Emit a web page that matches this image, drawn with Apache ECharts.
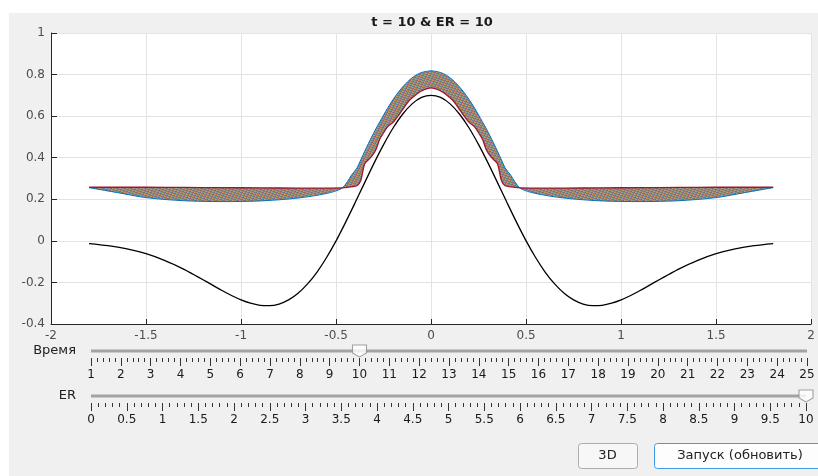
<!DOCTYPE html>
<html>
<head>
<meta charset="utf-8">
<script src="https://cdn.jsdelivr.net/npm/echarts@6/dist/echarts.min.js"></script>
<style>
html,body{margin:0;padding:0;background:#fff;}
#c{width:818px;height:476px;}
</style>
</head>
<body>
<div id="c"></div>
<script>
// ---- data ----
const blackX = [-1.8,-1.7,-1.6,-1.5,-1.4,-1.3,-1.25,-1.2,-1.15,-1.1,-1.05,-1.0,-0.95,-0.9,-0.85,-0.8,-0.75,-0.7,-0.65,-0.6,-0.55,-0.5,-0.45,-0.4,-0.35,-0.3,-0.25,-0.2,-0.15,-0.1,-0.05,0,
                0.05,0.1,0.15,0.2,0.25,0.3,0.35,0.4,0.45,0.5,0.55,0.6,0.65,0.7,0.75,0.8,0.85,0.9,0.95,1.0,1.05,1.1,1.15,1.2,1.25,1.3,1.4,1.5,1.6,1.7,1.8];
const blackY = [-0.013,-0.023,-0.039,-0.062,-0.095,-0.137,-0.162,-0.187,-0.213,-0.239,-0.263,-0.284,-0.300,-0.310,-0.312,-0.304,-0.284,-0.252,-0.207,-0.150,-0.080,0.000,0.089,0.183,0.279,0.374,0.463,0.543,0.609,0.659,0.690,0.700,
                0.690,0.659,0.609,0.543,0.463,0.374,0.279,0.183,0.089,0.000,-0.080,-0.150,-0.207,-0.252,-0.284,-0.304,-0.312,-0.310,-0.300,-0.284,-0.263,-0.239,-0.213,-0.187,-0.162,-0.137,-0.095,-0.062,-0.039,-0.023,-0.013];

const bandX = [-1.8,-1.65,-1.5,-1.3,-1.1,-0.9,-0.7,-0.55,-0.47,-0.44,-0.42,-0.39,-0.37,-0.35,-0.33,-0.31,-0.29,-0.27,-0.25,-0.23,-0.2,-0.17,-0.14,-0.11,-0.08,-0.05,0,
               0.05,0.08,0.11,0.14,0.17,0.2,0.23,0.25,0.27,0.29,0.31,0.33,0.35,0.37,0.39,0.42,0.44,0.47,0.55,0.7,0.9,1.1,1.3,1.5,1.65,1.8];
// first curve (blue): lower edge on the flanks, upper edge on the peak
const firstY = [0.256,0.232,0.208,0.193,0.189,0.192,0.206,0.228,0.252,0.285,0.315,0.35,0.39,0.43,0.468,0.505,0.54,0.573,0.605,0.637,0.68,0.718,0.75,0.777,0.797,0.81,0.818,
                0.81,0.797,0.777,0.75,0.718,0.68,0.637,0.605,0.573,0.54,0.505,0.468,0.43,0.39,0.35,0.315,0.285,0.252,0.228,0.206,0.192,0.189,0.193,0.208,0.232,0.256];
// last curve (red): upper edge on the flanks, lower edge on the peak
const lastY = [0.258,0.258,0.258,0.257,0.256,0.255,0.254,0.254,0.255,0.257,0.26,0.265,0.29,0.37,0.39,0.41,0.44,0.49,0.52,0.548,0.57,0.605,0.645,0.68,0.703,0.722,0.736,
               0.722,0.703,0.68,0.645,0.605,0.57,0.548,0.52,0.49,0.44,0.41,0.39,0.37,0.29,0.265,0.26,0.257,0.255,0.254,0.254,0.255,0.256,0.257,0.258,0.258,0.258];

const timeMin = 1, timeMax = 25, timeValue = 10;
const erMin = 0, erMax = 10, erValue = 10;
const titleText = 't = ' + timeValue + ' & ER = ' + erValue;
const sliderLabels = ['Время', 'ER'];
const buttonLabels = ['3D', 'Запуск (обновить)'];
const lineColors = ['#0072BD','#D95319','#EDB120','#7E2F8E','#77AC30','#4DBEEE','#A2142F'];

// ---- texture for the band of many coloured curves ----
function makePattern(){
  const cv = document.createElement('canvas');
  cv.width = 7; cv.height = 7;
  const ctx = cv.getContext('2d');
  for (let y = 0; y < 7; y++) {
    for (let x = 0; x < 7; x++) {
      ctx.fillStyle = lineColors[(x * 3 + y * 5) % 7];
      ctx.fillRect(x, y, 1, 1);
    }
  }
  ctx.fillStyle = 'rgba(160,145,128,0.6)';
  ctx.fillRect(0, 0, 7, 7);
  return {image: cv, repeat: 'repeat'};
}
const bandFill = makePattern();

const FONT = "'DejaVu Sans', 'Liberation Sans', Arial, sans-serif";
const chart = echarts.init(document.getElementById('c'), null, {renderer: 'canvas'});

const option = {
  backgroundColor: '#ffffff',
  animation: false,
  graphic: [
    {type: 'rect', z: -10, silent: true, shape: {x: 9, y: 13, width: 809, height: 463}, style: {fill: '#f0f0f0'}},
    {type: 'text', z: 10, x: 432, y: 23, style: {text: titleText, font: 'bold 13px ' + FONT, fill: '#1a1a1a', align: 'center', verticalAlign: 'middle'}},
    {type: 'text', z: 10, x: 76, y: 351, style: {text: sliderLabels[0], font: '13px ' + FONT, fill: '#222', align: 'right', verticalAlign: 'middle'}},
    {type: 'text', z: 10, x: 76, y: 396, style: {text: sliderLabels[1], font: '13px ' + FONT, fill: '#222', align: 'right', verticalAlign: 'middle'}},
    {type: 'rect', z: 10, shape: {x: 578.5, y: 443.5, width: 59, height: 25, r: 3}, style: {fill: '#f7f7f7', stroke: '#adadad', lineWidth: 1}},
    {type: 'text', z: 11, x: 607.5, y: 456, style: {text: buttonLabels[0], font: '13px ' + FONT, fill: '#222', align: 'center', verticalAlign: 'middle'}},
    {type: 'rect', z: 10, shape: {x: 654.5, y: 443.5, width: 180, height: 25, r: 3}, style: {fill: '#fdfdfd', stroke: '#3d9be9', lineWidth: 1}},
    {type: 'text', z: 11, x: 740, y: 456, style: {text: buttonLabels[1], font: '13px ' + FONT, fill: '#222', align: 'center', verticalAlign: 'middle'}}
  ],
  grid: [
    {left: 51, top: 33, width: 761, height: 291, show: true, backgroundColor: '#ffffff', borderWidth: 0, containLabel: false},
    {left: 91, top: 344, width: 716, height: 14, containLabel: false},
    {left: 91, top: 389, width: 715, height: 14, containLabel: false}
  ],
  xAxis: [
    {gridIndex: 0, type: 'value', min: -2, max: 2, interval: 0.5,
     axisLine: {show: true, onZero: false, lineStyle: {color: '#262626', width: 1}},
     axisTick: {show: true, inside: true, length: 5, lineStyle: {color: '#262626'}},
     axisLabel: {color: '#4d4d4d', fontSize: 12, fontFamily: FONT, margin: 6},
     splitLine: {show: true, lineStyle: {color: '#e3e3e3', width: 1}}},
    {gridIndex: 1, type: 'value', min: timeMin, max: timeMax, interval: 1,
     axisLine: {show: false, onZero: false},
     axisTick: {show: true, inside: false, length: 8, lineStyle: {color: '#333'}},
     minorTick: {show: true, splitNumber: 5, length: 4, lineStyle: {color: '#333'}},
     axisLabel: {color: '#1a1a1a', fontSize: 12, fontFamily: FONT, margin: 11, interval: 0, hideOverlap: false},
     splitLine: {show: false}},
    {gridIndex: 2, type: 'value', min: erMin, max: erMax, interval: 0.5,
     axisLine: {show: false, onZero: false},
     axisTick: {show: true, inside: false, length: 8, lineStyle: {color: '#333'}},
     minorTick: {show: true, splitNumber: 5, length: 4, lineStyle: {color: '#333'}},
     axisLabel: {color: '#1a1a1a', fontSize: 12, fontFamily: FONT, margin: 11, interval: 0, hideOverlap: false},
     splitLine: {show: false}}
  ],
  yAxis: [
    {gridIndex: 0, type: 'value', min: -0.4, max: 1, interval: 0.2,
     axisLine: {show: true, onZero: false, lineStyle: {color: '#262626', width: 1}},
     axisTick: {show: true, inside: true, length: 6, lineStyle: {color: '#262626'}},
     axisLabel: {color: '#4d4d4d', fontSize: 12, fontFamily: FONT, margin: 6},
     splitLine: {show: true, lineStyle: {color: '#e3e3e3', width: 1}}},
    {gridIndex: 1, type: 'value', min: -1, max: 1, show: false},
    {gridIndex: 2, type: 'value', min: -1, max: 1, show: false}
  ],
  series: [
    {type: 'custom', xAxisIndex: 0, yAxisIndex: 0, z: 2, silent: true, clip: true,
     data: [[0, 0]],
     renderItem: function (params, api) {
       const pts = [];
       for (let i = 0; i < bandX.length; i++) pts.push(api.coord([bandX[i], firstY[i]]));
       for (let i = bandX.length - 1; i >= 0; i--) pts.push(api.coord([bandX[i], lastY[i]]));
       return {type: 'polygon', shape: {points: pts}, style: {fill: bandFill, stroke: null}};
     }},
    {type: 'line', xAxisIndex: 0, yAxisIndex: 0, z: 3, silent: true, symbol: 'none', smooth: 0.3,
     data: bandX.map((x, i) => [x, firstY[i]]), lineStyle: {color: lineColors[0], width: 1}},
    {type: 'line', xAxisIndex: 0, yAxisIndex: 0, z: 4, silent: true, symbol: 'none', smooth: 0.3,
     data: bandX.map((x, i) => [x, lastY[i]]), lineStyle: {color: lineColors[6], width: 1.3}},
    {type: 'line', xAxisIndex: 0, yAxisIndex: 0, z: 5, silent: true, symbol: 'none', smooth: 0.3,
     data: blackX.map((x, i) => [x, blackY[i]]), lineStyle: {color: '#000000', width: 1.3}},
    // slider tracks and thumbs
    {type: 'line', xAxisIndex: 1, yAxisIndex: 1, silent: true, symbol: 'none',
     data: [[timeMin, 0], [timeMax, 0]], lineStyle: {color: '#a3a3a3', width: 3}},
    {type: 'scatter', xAxisIndex: 1, yAxisIndex: 1, silent: true, z: 5,
     symbol: 'path://M0,0 L14,0 L14,8 L7,12 L0,8 Z', symbolSize: [14, 12],
     itemStyle: {color: '#ffffff', borderColor: '#8c8c8c', borderWidth: 1},
     data: [[timeValue, 0]]},
    {type: 'line', xAxisIndex: 2, yAxisIndex: 2, silent: true, symbol: 'none',
     data: [[erMin, 0], [erMax, 0]], lineStyle: {color: '#a3a3a3', width: 3}},
    {type: 'scatter', xAxisIndex: 2, yAxisIndex: 2, silent: true, z: 5,
     symbol: 'path://M0,0 L14,0 L14,8 L7,12 L0,8 Z', symbolSize: [14, 12],
     itemStyle: {color: '#ffffff', borderColor: '#8c8c8c', borderWidth: 1},
     data: [[erValue, 0]]}
  ]
};
chart.setOption(option);
</script>
</body>
</html>
